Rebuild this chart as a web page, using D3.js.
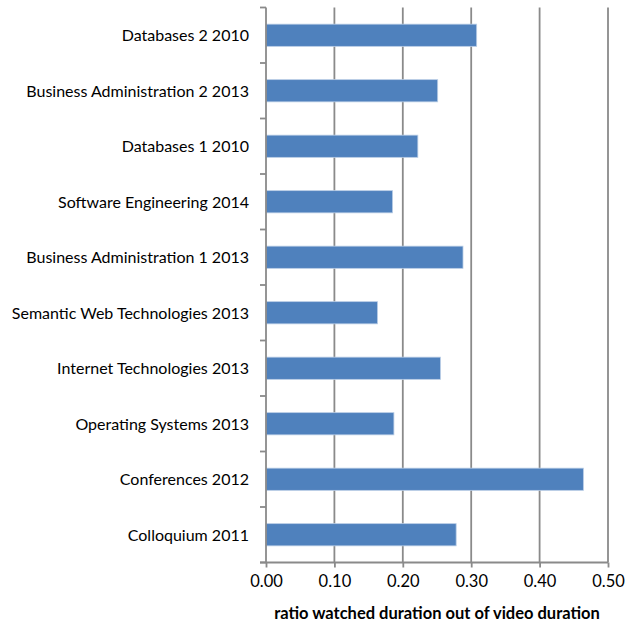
<!DOCTYPE html>
<html>
<head>
<meta charset="utf-8">
<script src="https://cdn.jsdelivr.net/npm/d3@7"></script>
<style>
  body { margin: 0; background: #fff; }
  svg text { font-family: Lato, "Open Sans", sans-serif; fill: #000; }
</style>
</head>
<body>
<div id="chart"></div>
<script>
// categories top to bottom, as shown in the chart
var courses = [
  "Databases 2 2010",
  "Business Administration 2 2013",
  "Databases 1 2010",
  "Software Engineering 2014",
  "Business Administration 1 2013",
  "Semantic Web Technologies 2013",
  "Internet Technologies 2013",
  "Operating Systems 2013",
  "Conferences 2012",
  "Colloquium 2011"
];
var ratios = [0.308, 0.251, 0.222, 0.185, 0.288, 0.163, 0.255, 0.187, 0.464, 0.278];
var xTicks = [0, 0.1, 0.2, 0.3, 0.4, 0.5];
var xTitle = "ratio watched duration out of video duration";

var W = 626, H = 623;
var plotL = 266, plotR = 608, plotT = 7.5, plotB = 562.5;
var fontSize = "16.5px";

var svg = d3.select("#chart").append("svg")
    .attr("width", W)
    .attr("height", H);

var x = d3.scaleLinear().domain([0, 0.5]).range([plotL, plotR]);
var y = d3.scaleBand().domain(courses).range([plotT, plotB]).paddingInner(0.6).paddingOuter(0.3);

// vertical gridlines
svg.append("g")
  .selectAll("line")
  .data(xTicks.slice(1))
.enter().append("line")
  .attr("x1", function(d) { return x(d); })
  .attr("x2", function(d) { return x(d); })
  .attr("y1", plotT)
  .attr("y2", plotB)
  .style("stroke", "#8a8a8a")
  .style("stroke-width", 1.8);

// bars
svg.append("g")
  .selectAll("rect")
  .data(ratios)
.enter().append("rect")
  .attr("x", x(0))
  .attr("y", function(d, i) { return y(courses[i]); })
  .attr("width", function(d) { return x(d) - x(0); })
  .attr("height", y.bandwidth())
  .style("fill", "#4f81bd")
  .style("stroke", "#b9cde5")
  .style("stroke-width", 0.8);

// y axis labels
var yAxis = d3.axisLeft(y).tickSize(0).tickPadding(17);
var gy = svg.append("g")
  .attr("transform", "translate(" + x(0) + ",1)")
  .call(yAxis);
gy.select(".domain").remove();
gy.selectAll("text").style("font-size", "16px");

// y tick marks sit between categories
var step = (plotB - plotT) / courses.length;
var yEdges = d3.range(courses.length + 1).map(function(i) { return plotT + i * step; });
svg.append("g")
  .selectAll("line")
  .data(yEdges)
.enter().append("line")
  .attr("x1", x(0) - 6)
  .attr("x2", x(0))
  .attr("y1", function(d) { return d; })
  .attr("y2", function(d) { return d; })
  .style("stroke", "#8a8a8a")
  .style("stroke-width", 1.8);

svg.append("line")
  .attr("x1", x(0)).attr("x2", x(0))
  .attr("y1", plotT).attr("y2", plotB)
  .style("stroke", "#8a8a8a")
  .style("stroke-width", 1.8);

// x axis
var xAxis = d3.axisBottom(x)
  .tickValues(xTicks)
  .tickFormat(d3.format(".2f"))
  .tickSizeOuter(0)
  .tickSizeInner(5)
  .tickPadding(8);
var gx = svg.append("g")
  .attr("transform", "translate(0," + plotB + ")")
  .call(xAxis);
gx.select(".domain")
  .style("stroke", "#8a8a8a")
  .style("stroke-width", 1.8)
  .attr("d", "M" + (x(0) - 6) + ",0H" + x(0.5));
gx.selectAll(".tick line").style("stroke", "#8a8a8a").style("stroke-width", 1.8);
gx.selectAll("text").style("font-size", fontSize);

svg.append("text")
  .attr("x", (plotL + plotR) / 2)
  .attr("y", 619)
  .attr("text-anchor", "middle")
  .style("font-size", fontSize)
  .style("font-weight", "bold")
  .text(xTitle);
</script>
</body>
</html>
